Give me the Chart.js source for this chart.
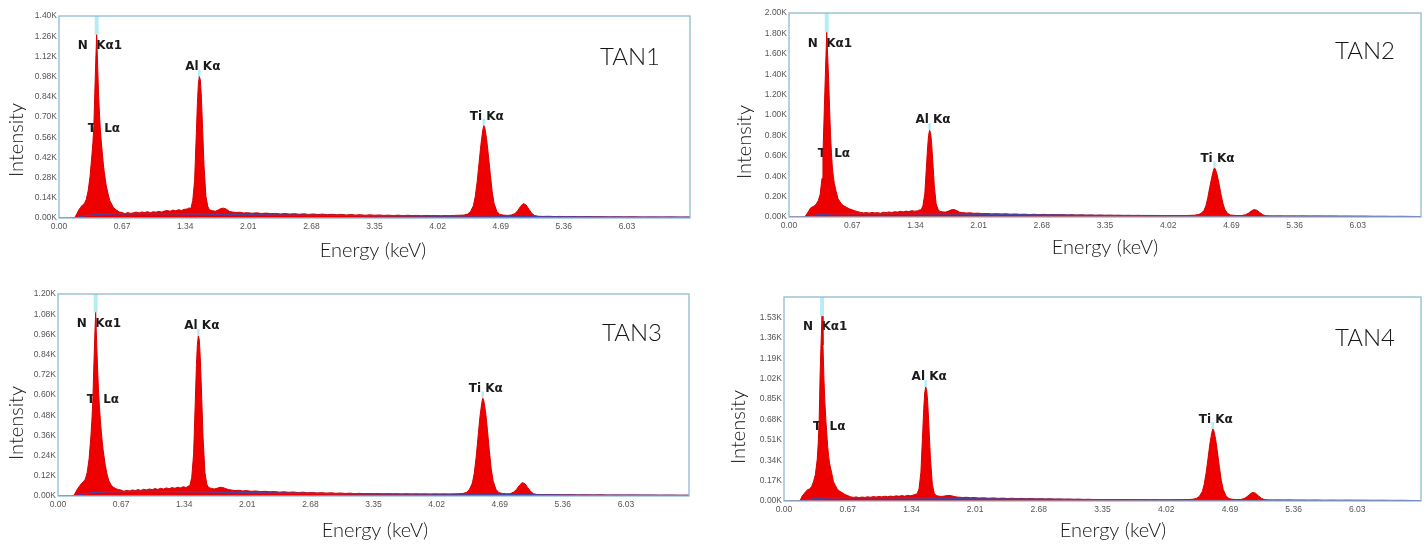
<!DOCTYPE html>
<html>
<head>
<meta charset="utf-8">
<script src="https://cdn.jsdelivr.net/npm/chart.js@4.4.1/dist/chart.umd.min.js"></script>
<style>
  html, body { margin: 0; padding: 0; background: #fff; }
  #wrap { position: relative; width: 1425px; height: 544px; overflow: hidden; }
  #wrap canvas { position: absolute; }
</style>
</head>
<body>
<div id="wrap">
  <canvas id="tan1" width="712" height="272" style="left:0;top:0"></canvas>
  <canvas id="tan2" width="713" height="272" style="left:712px;top:0"></canvas>
  <canvas id="tan3" width="712" height="272" style="left:0;top:272px"></canvas>
  <canvas id="tan4" width="713" height="272" style="left:712px;top:272px"></canvas>
</div>
<script>
// Energy channels shared by the four spectra (keV)
const energyKeV = [
  0.00, 0.05, 0.10, 0.14, 0.17, 0.19, 0.21, 0.23, 0.25, 0.27,
  0.29, 0.31, 0.33, 0.35, 0.36, 0.37, 0.38, 0.39, 0.40, 0.41,
  0.42, 0.43, 0.44, 0.45, 0.46, 0.47, 0.48, 0.50, 0.52, 0.54,
  0.56, 0.58, 0.61, 0.64, 0.67, 0.70, 0.73, 0.76, 0.79, 0.82,
  0.85, 0.88, 0.91, 0.94, 0.97, 1.00, 1.03, 1.06, 1.09, 1.12,
  1.15, 1.18, 1.21, 1.24, 1.27, 1.30, 1.33, 1.36, 1.38, 1.40,
  1.42, 1.44, 1.46, 1.47, 1.48, 1.49, 1.50, 1.51, 1.52, 1.54,
  1.56, 1.58, 1.60, 1.63, 1.66, 1.69, 1.72, 1.75, 1.78, 1.81,
  1.84, 1.88, 1.92, 1.96, 2.00, 2.05, 2.10, 2.15, 2.20, 2.25,
  2.30, 2.35, 2.40, 2.45, 2.50, 2.55, 2.60, 2.65, 2.70, 2.75,
  2.80, 2.85, 2.90, 2.95, 3.00, 3.05, 3.10, 3.15, 3.20, 3.25,
  3.30, 3.35, 3.40, 3.45, 3.50, 3.55, 3.60, 3.65, 3.70, 3.75,
  3.80, 3.85, 3.90, 3.95, 4.00, 4.05, 4.10, 4.15, 4.20, 4.25,
  4.30, 4.34, 4.37, 4.40, 4.42, 4.44, 4.46, 4.48, 4.50, 4.51,
  4.52, 4.54, 4.56, 4.58, 4.60, 4.62, 4.65, 4.68, 4.72, 4.76,
  4.80, 4.84, 4.87, 4.90, 4.93, 4.96, 4.99, 5.02, 5.05, 5.09,
  5.14, 5.20, 5.26, 5.32, 5.38, 5.45, 5.52, 5.60, 5.68, 5.76,
  5.84, 5.92, 6.00, 6.10, 6.20, 6.30, 6.40, 6.50, 6.60, 6.70
];

// Intensity in thousands of counts (K)
const countsTAN1 = [
  0, 0, 0, 0, 0.005, 0.03, 0.055, 0.075, 0.09, 0.10,
  0.13, 0.19, 0.29, 0.44, 0.52, 0.64, 0.86, 1.08, 1.27, 1.06,
  0.86, 0.72, 0.60, 0.52, 0.45, 0.38, 0.32, 0.23, 0.17, 0.12,
  0.095, 0.07, 0.055, 0.042, 0.038, 0.03, 0.038, 0.032, 0.036, 0.041,
  0.035, 0.042, 0.038, 0.044, 0.037, 0.043, 0.04, 0.046, 0.041, 0.048,
  0.052, 0.047, 0.055, 0.05, 0.058, 0.052, 0.06, 0.062, 0.07, 0.065,
  0.12, 0.26, 0.62, 0.80, 0.93, 0.98, 0.96, 0.86, 0.70, 0.36,
  0.15, 0.08, 0.055, 0.05, 0.047, 0.055, 0.066, 0.068, 0.06, 0.045,
  0.042, 0.038, 0.04, 0.035, 0.037, 0.033, 0.036, 0.031, 0.034, 0.03,
  0.032, 0.028, 0.031, 0.027, 0.03, 0.026, 0.029, 0.025, 0.028, 0.024,
  0.027, 0.023, 0.026, 0.022, 0.025, 0.021, 0.024, 0.02, 0.023, 0.019,
  0.022, 0.019, 0.021, 0.018, 0.02, 0.017, 0.02, 0.016, 0.019, 0.017,
  0.018, 0.015, 0.018, 0.016, 0.017, 0.015, 0.017, 0.016, 0.018, 0.019,
  0.02, 0.028, 0.045, 0.085, 0.15, 0.25, 0.38, 0.51, 0.61, 0.64,
  0.63, 0.55, 0.43, 0.30, 0.18, 0.10, 0.045, 0.025, 0.02, 0.018,
  0.02, 0.03, 0.05, 0.08, 0.10, 0.09, 0.06, 0.032, 0.017, 0.012,
  0.011, 0.012, 0.01, 0.011, 0.009, 0.01, 0.008, 0.01, 0.008, 0.009,
  0.007, 0.008, 0.007, 0.008, 0.006, 0.007, 0.006, 0.007, 0.005, 0.006
];
const countsTAN2 = [
  0, 0, 0, 0, 0.004, 0.03, 0.06, 0.09, 0.10, 0.11,
  0.13, 0.16, 0.22, 0.38, 0.62, 0.92, 1.23, 1.52, 1.81, 1.58,
  1.35, 1.07, 0.81, 0.63, 0.48, 0.40, 0.33, 0.25, 0.18, 0.15,
  0.125, 0.11, 0.095, 0.08, 0.07, 0.06, 0.052, 0.045, 0.04, 0.044,
  0.038, 0.045, 0.04, 0.043, 0.036, 0.047, 0.042, 0.05, 0.044, 0.052,
  0.048, 0.056, 0.05, 0.058, 0.053, 0.062, 0.057, 0.06, 0.068, 0.07,
  0.11, 0.23, 0.54, 0.69, 0.80, 0.85, 0.83, 0.75, 0.61, 0.31,
  0.13, 0.075, 0.055, 0.05, 0.048, 0.058, 0.07, 0.073, 0.062, 0.046,
  0.043, 0.039, 0.041, 0.036, 0.038, 0.033, 0.035, 0.03, 0.033, 0.029,
  0.031, 0.027, 0.03, 0.026, 0.028, 0.024, 0.027, 0.023, 0.026, 0.022,
  0.024, 0.021, 0.023, 0.019, 0.022, 0.018, 0.021, 0.017, 0.02, 0.016,
  0.019, 0.016, 0.018, 0.015, 0.017, 0.014, 0.016, 0.013, 0.016, 0.014,
  0.015, 0.013, 0.015, 0.012, 0.014, 0.013, 0.014, 0.012, 0.014, 0.016,
  0.018, 0.024, 0.036, 0.065, 0.11, 0.19, 0.29, 0.38, 0.46, 0.48,
  0.47, 0.41, 0.32, 0.22, 0.135, 0.075, 0.034, 0.02, 0.016, 0.014,
  0.015, 0.022, 0.037, 0.058, 0.073, 0.066, 0.044, 0.024, 0.013, 0.01,
  0.009, 0.01, 0.008, 0.009, 0.008, 0.009, 0.007, 0.008, 0.007, 0.008,
  0.006, 0.007, 0.006, 0.007, 0.005, 0.006, 0.005, 0.006, 0.005, 0.005
];
const countsTAN3 = [
  0, 0, 0, 0, 0.004, 0.025, 0.045, 0.06, 0.075, 0.085,
  0.10, 0.14, 0.22, 0.36, 0.45, 0.57, 0.76, 0.94, 1.09, 0.92,
  0.76, 0.63, 0.53, 0.45, 0.38, 0.32, 0.27, 0.19, 0.13, 0.09,
  0.07, 0.055, 0.045, 0.038, 0.035, 0.028, 0.034, 0.03, 0.036, 0.032,
  0.038, 0.033, 0.04, 0.036, 0.042, 0.037, 0.044, 0.039, 0.046, 0.041,
  0.048, 0.043, 0.05, 0.046, 0.052, 0.048, 0.055, 0.05, 0.058, 0.062,
  0.11, 0.25, 0.60, 0.78, 0.90, 0.95, 0.93, 0.83, 0.68, 0.35,
  0.14, 0.07, 0.05, 0.045, 0.042, 0.046, 0.052, 0.05, 0.044, 0.038,
  0.036, 0.032, 0.034, 0.03, 0.032, 0.028, 0.03, 0.026, 0.028, 0.025,
  0.027, 0.023, 0.025, 0.022, 0.024, 0.02, 0.023, 0.019, 0.021, 0.018,
  0.02, 0.017, 0.019, 0.016, 0.018, 0.015, 0.017, 0.014, 0.016, 0.013,
  0.015, 0.013, 0.015, 0.012, 0.014, 0.012, 0.013, 0.011, 0.013, 0.011,
  0.012, 0.011, 0.012, 0.01, 0.012, 0.011, 0.012, 0.011, 0.012, 0.013,
  0.015, 0.022, 0.04, 0.077, 0.135, 0.23, 0.35, 0.47, 0.555, 0.58,
  0.57, 0.50, 0.39, 0.27, 0.16, 0.09, 0.04, 0.02, 0.015, 0.013,
  0.013, 0.024, 0.04, 0.064, 0.08, 0.072, 0.048, 0.026, 0.013, 0.009,
  0.008, 0.009, 0.007, 0.008, 0.007, 0.008, 0.006, 0.007, 0.006, 0.007,
  0.005, 0.006, 0.005, 0.006, 0.005, 0.005, 0.004, 0.005, 0.004, 0.005
];
const countsTAN4 = [
  0, 0, 0, 0, 0.004, 0.04, 0.06, 0.08, 0.095, 0.10,
  0.12, 0.16, 0.22, 0.35, 0.48, 0.68, 1.06, 1.32, 1.54, 1.30,
  1.02, 0.82, 0.68, 0.56, 0.45, 0.37, 0.31, 0.24, 0.16, 0.13,
  0.10, 0.085, 0.07, 0.055, 0.045, 0.035, 0.03, 0.034, 0.028, 0.033,
  0.03, 0.035, 0.031, 0.037, 0.033, 0.038, 0.034, 0.04, 0.036, 0.041,
  0.037, 0.043, 0.039, 0.045, 0.04, 0.047, 0.043, 0.05, 0.055, 0.06,
  0.10, 0.24, 0.59, 0.77, 0.90, 0.95, 0.93, 0.84, 0.69, 0.36,
  0.14, 0.065, 0.045, 0.04, 0.038, 0.042, 0.046, 0.045, 0.04, 0.034,
  0.032, 0.029, 0.031, 0.027, 0.029, 0.025, 0.027, 0.023, 0.026, 0.022,
  0.024, 0.021, 0.023, 0.02, 0.022, 0.018, 0.021, 0.017, 0.019, 0.016,
  0.018, 0.015, 0.017, 0.014, 0.016, 0.013, 0.015, 0.012, 0.014, 0.012,
  0.013, 0.011, 0.013, 0.01, 0.012, 0.01, 0.012, 0.01, 0.011, 0.01,
  0.011, 0.009, 0.011, 0.009, 0.01, 0.009, 0.011, 0.01, 0.011, 0.012,
  0.015, 0.022, 0.04, 0.08, 0.14, 0.235, 0.355, 0.48, 0.57, 0.60,
  0.59, 0.515, 0.40, 0.28, 0.17, 0.095, 0.042, 0.02, 0.014, 0.012,
  0.012, 0.02, 0.036, 0.057, 0.072, 0.065, 0.043, 0.023, 0.012, 0.008,
  0.007, 0.008, 0.007, 0.008, 0.006, 0.007, 0.006, 0.007, 0.005, 0.006,
  0.005, 0.006, 0.005, 0.005, 0.004, 0.005, 0.004, 0.005, 0.004, 0.004
];

// Fitted background (dark blue line under the spectrum)
const bgEnergyKeV = [0, 0.17, 0.22, 0.30, 0.40, 0.50, 0.65, 0.90, 1.20, 1.50, 1.80, 2.20, 2.70, 3.30, 4.00, 4.50, 5.00, 5.60, 6.20, 6.70];
const bgTAN1 = [0, 0, 0.008, 0.018, 0.024, 0.027, 0.029, 0.03, 0.029, 0.027, 0.025, 0.022, 0.019, 0.016, 0.013, 0.012, 0.01, 0.008, 0.007, 0.006];
const bgTAN2 = [0, 0, 0.01, 0.022, 0.028, 0.032, 0.034, 0.034, 0.033, 0.031, 0.028, 0.025, 0.021, 0.017, 0.014, 0.012, 0.01, 0.008, 0.006, 0.005];
const bgTAN3 = [0, 0, 0.007, 0.016, 0.021, 0.024, 0.026, 0.027, 0.026, 0.024, 0.022, 0.019, 0.016, 0.013, 0.011, 0.01, 0.008, 0.006, 0.005, 0.004];
const bgTAN4 = [0, 0, 0.008, 0.018, 0.023, 0.026, 0.027, 0.027, 0.026, 0.024, 0.021, 0.018, 0.015, 0.012, 0.01, 0.009, 0.007, 0.006, 0.005, 0.004];

const sampleNames = ["TAN1", "TAN2", "TAN3", "TAN4"];
const xTickLabels = ["0.00", "0.67", "1.34", "2.01", "2.68", "3.35", "4.02", "4.69", "5.36", "6.03", ""];
const yMaxK = [1.40, 2.00, 1.20, 1.70];
const yTickLabels = [
  ["0.00K", "0.14K", "0.28K", "0.42K", "0.56K", "0.70K", "0.84K", "0.98K", "1.12K", "1.26K", "1.40K"],
  ["0.00K", "0.20K", "0.40K", "0.60K", "0.80K", "1.00K", "1.20K", "1.40K", "1.60K", "1.80K", "2.00K"],
  ["0.00K", "0.12K", "0.24K", "0.36K", "0.48K", "0.60K", "0.72K", "0.84K", "0.96K", "1.08K", "1.20K"],
  ["0.00K", "0.17K", "0.34K", "0.51K", "0.68K", "0.85K", "1.02K", "1.19K", "1.36K", "1.53K", ""]
];

// Peak markers: N Ka1 / Al Ka / Ti Ka, and where the Ti La tag sits
const peakEnergyKeV = [0.40, 1.49, 4.51];
const tiLaLevelK = [0.62, 0.62, 0.57, 0.62];

const allCounts = [countsTAN1, countsTAN2, countsTAN3, countsTAN4];
const allBg = [bgTAN1, bgTAN2, bgTAN3, bgTAN4];

// page geometry of each panel (absolute px)
const panels = [
  { id: "tan1", left: 0, top: 0, w: 712, h: 272, plot: { l: 59, t: 16, r: 690, b: 218 }, yTitle: [17, 140], xTitle: [373, 251], tag: [630, 57] },
  { id: "tan2", left: 712, top: 0, w: 713, h: 272, plot: { l: 789, t: 13, r: 1421, b: 217 }, yTitle: [745, 142], xTitle: [1105, 248], tag: [1365, 51] },
  { id: "tan3", left: 0, top: 272, w: 712, h: 272, plot: { l: 58, t: 294, r: 689, b: 496 }, yTitle: [17, 423], xTitle: [375, 531], tag: [632, 333] },
  { id: "tan4", left: 712, top: 272, w: 713, h: 272, plot: { l: 784, t: 297, r: 1421, b: 501 }, yTitle: [739, 427], xTitle: [1113, 531], tag: [1365, 338] }
];

const LABEL_FONT = "bold 12px 'DejaVu Sans', Arial, sans-serif";
const TITLE_FONT = "300 20px Lato, 'Open Sans', sans-serif";
const TAG_FONT = "300 24px Lato, 'Open Sans', sans-serif";

function peakValue(p, e) {
  return allCounts[p][energyKeV.indexOf(e)];
}

// labels, marker lines, frame and titles
const decorPlugin = {
  id: "decor",
  beforeDatasetsDraw(chart, args, opts) {
    const p = opts.panel;
    const ctx = chart.ctx;
    const xs = chart.scales.x, ys = chart.scales.y;
    const area = chart.chartArea;
    ctx.save();
    // light cyan marker lines
    ctx.strokeStyle = "rgba(178,236,243,0.95)";
    let px = xs.getPixelForValue(peakEnergyKeV[0]);
    let py = ys.getPixelForValue(peakValue(p, peakEnergyKeV[0]));
    ctx.lineWidth = 4;
    ctx.beginPath(); ctx.moveTo(px, area.top); ctx.lineTo(px, py); ctx.stroke();
    ctx.lineWidth = 2.5;
    for (let k = 1; k < 3; k++) {
      const x = xs.getPixelForValue(peakEnergyKeV[k]);
      const y = ys.getPixelForValue(peakValue(p, peakEnergyKeV[k]));
      ctx.beginPath(); ctx.moveTo(x, y - 7); ctx.lineTo(x, y); ctx.stroke();
    }
    // peak names
    ctx.fillStyle = "#1a1a1a";
    ctx.font = LABEL_FONT;
    ctx.textBaseline = "middle";
    ctx.textAlign = "left";
    ctx.fillText("N", px - 19, py + 11);
    ctx.fillText("Kα1", px - 0.5, py + 11);
    ctx.fillText("Ti Lα", px - 9, ys.getPixelForValue(tiLaLevelK[p]));
    ctx.textAlign = "center";
    let x = xs.getPixelForValue(peakEnergyKeV[1]);
    let y = ys.getPixelForValue(peakValue(p, peakEnergyKeV[1]));
    ctx.fillText("Al Kα", x + 3.5, y - 10);
    x = xs.getPixelForValue(peakEnergyKeV[2]);
    y = ys.getPixelForValue(peakValue(p, peakEnergyKeV[2]));
    ctx.fillText("Ti Kα", x + 3, y - 9);
    ctx.restore();
  },
  afterDraw(chart, args, opts) {
    const P = panels[opts.panel];
    const ctx = chart.ctx;
    const a = chart.chartArea;
    ctx.save();
    ctx.strokeStyle = "#8dbbd0";
    ctx.lineWidth = 1.3;
    ctx.strokeRect(a.left, a.top, a.right - a.left, a.bottom - a.top);

    ctx.fillStyle = "#161616";
    ctx.textAlign = "center";
    ctx.textBaseline = "middle";
    ctx.font = TAG_FONT;
    ctx.fillText(sampleNames[opts.panel], P.tag[0] - P.left, P.tag[1] - P.top);
    ctx.font = TITLE_FONT;
    ctx.fillText("Energy (keV)", P.xTitle[0] - P.left, P.xTitle[1] - P.top);
    ctx.translate(P.yTitle[0] - P.left, P.yTitle[1] - P.top);
    ctx.rotate(-Math.PI / 2);
    ctx.fillText("Intensity", 0, 0);
    ctx.restore();
  }
};

panels.forEach((P, i) => {
  const pl = P.plot;
  new Chart(document.getElementById(P.id), {
    type: "line",
    data: {
      datasets: [
        {
          label: "background",
          data: bgEnergyKeV.map((e, k) => ({ x: e, y: allBg[i][k] })),
          borderColor: "#4a44a6",
          borderWidth: 1.2,
          pointRadius: 0,
          fill: false,
          order: 1
        },
        {
          label: sampleNames[i],
          data: energyKeV.map((e, k) => ({ x: e, y: allCounts[i][k] })),
          borderColor: "rgb(214,0,0)",
          backgroundColor: "rgb(238,0,0)",
          borderWidth: 1,
          pointRadius: 0,
          fill: "origin",
          order: 2
        }
      ]
    },
    options: {
      responsive: false,
      animation: false,
      devicePixelRatio: 1,
      layout: { padding: { left: 0, top: pl.t - P.top, right: P.left + P.w - pl.r, bottom: 0 } },
      plugins: {
        legend: { display: false },
        tooltip: { enabled: false },
        decor: { panel: i }
      },
      scales: {
        x: {
          type: "linear",
          min: 0,
          max: 6.70,
          afterFit: s => { s.height = P.top + P.h - pl.b; },
          grid: { display: false, drawTicks: false },
          border: { display: false },
          ticks: {
            stepSize: 0.67,
            autoSkip: false,
            maxRotation: 0,
            padding: 4,
            color: "#555",
            font: { size: 8.5, family: "Arial, 'Liberation Sans', sans-serif" },
            callback: (v, k) => xTickLabels[k]
          }
        },
        y: {
          min: 0,
          max: yMaxK[i],
          afterFit: s => { s.width = pl.l - P.left; },
          grid: { display: false, drawTicks: false },
          border: { display: false },
          ticks: {
            stepSize: yMaxK[i] / 10,
            autoSkip: false,
            padding: 2,
            color: "#555",
            font: { size: 8.5, family: "Arial, 'Liberation Sans', sans-serif" },
            callback: (v, k) => yTickLabels[i][k]
          }
        }
      }
    },
    plugins: [decorPlugin]
  });
});
</script>
</body>
</html>
